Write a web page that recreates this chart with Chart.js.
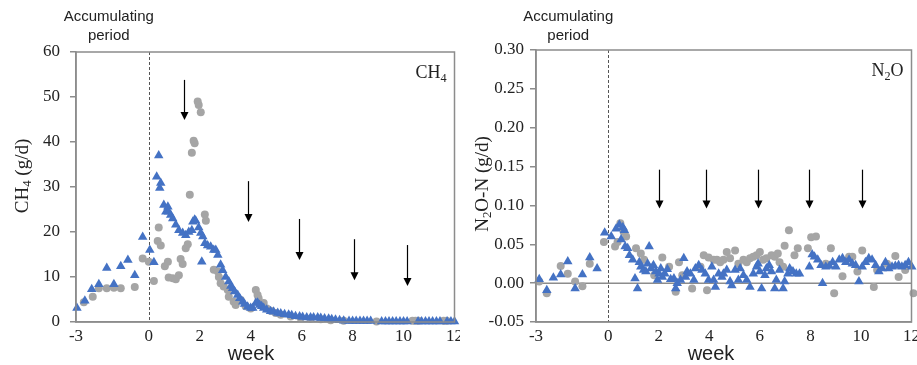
<!DOCTYPE html>
<html>
<head>
<meta charset="utf-8">
<script src="https://cdn.jsdelivr.net/npm/chart.js@4"></script>
<style>
  html, body { margin: 0; padding: 0; background: #fff; }
  .panel { position: absolute; top: 0; height: 365px; }
</style>
</head>
<body>
<div class="panel" style="left:0;width:460px"><canvas id="ch4Chart" width="460" height="365"></canvas></div>
<div class="panel" style="left:460px;width:457px"><canvas id="n2oChart" width="457" height="365"></canvas></div>
<script>
// x axis in weeks; first day of the accumulating period is day -20
const weekMin = -20 / 7;
const weekTicks = [weekMin, 0, 2, 4, 6, 8, 10, 12];

// CH4 (g/d) - blue triangles
const ch4BlueWeek = [-2.82, -2.51, -2.24, -1.96, -1.65, -1.37, -1.10, -0.82, -0.55, -0.24, 0.04, 0.20,
  0.31, 0.39, 0.43, 0.47, 0.59, 0.67, 0.75, 0.78, 0.86, 0.94, 1.06, 1.18, 1.33, 1.45, 1.57, 1.69, 1.73, 1.80,
  1.84, 1.96, 2.04, 2.08, 2.12, 2.20, 2.31, 2.43, 2.55, 2.63, 2.71, 2.82, 2.90, 3.02, 3.14, 3.22, 3.29, 3.37,
  3.49, 3.57, 3.69, 3.76, 3.88, 4.00, 4.08, 4.20, 4.27, 4.35, 4.43, 4.51, 4.63, 4.78, 4.90, 5.06, 5.18, 5.33,
  5.49, 5.61, 5.76, 5.92, 6.04, 6.20, 6.35, 6.47, 6.63, 6.75, 6.90, 7.06, 7.18, 7.33, 7.49, 7.65,
  7.86, 8.00, 8.14, 8.29, 8.43, 8.57, 8.71, 9.14, 9.29, 9.43, 9.57, 9.71, 9.86, 10.00, 10.14,
  10.57, 10.71, 10.86, 11.00, 11.14, 11.29, 11.43, 11.71, 11.86, 12.00];
const ch4BlueVal = [3.1, 4.7, 7.3, 8.4, 12.0, 8.4, 12.4, 13.8, 10.4, 18.9, 16.0, 13.3,
  32.3, 37.0, 29.8, 30.9, 26.0, 24.5, 25.6, 24.5, 23.8, 23.0, 21.6, 20.4, 19.8, 19.3, 20.0, 20.4, 22.3, 22.7,
  22.5, 21.0, 19.8, 13.4, 19.0, 17.5, 17.0, 16.7, 16.0, 16.0, 14.9, 12.7, 11.5, 10.0, 9.0, 8.0, 7.5, 6.8,
  6.0, 5.3, 4.5, 4.0, 3.4, 3.1, 3.1, 4.2, 4.3, 3.8, 3.5, 3.1, 2.7, 2.4, 2.3, 2.0, 1.9, 1.7,
  1.6, 1.5, 1.3, 1.2, 1.1, 1.0, 1.0, 1.0, 1.0, 0.9, 0.8, 0.7, 0.6, 0.5, 0.4, 0.3,
  0.2, 0.2, 0.2, 0.2, 0.2, 0.2, 0.2, 0.1, 0.1, 0.1, 0.1, 0.1, 0.1, 0.1, 0.1,
  0.1, 0.1, 0.1, 0.1, 0.1, 0.1, 0.1, 0.1, 0.1, 0.1];

// CH4 (g/d) - grey circles
const ch4GreyWeek = [-2.55, -2.20, -1.96, -1.65, -1.37, -1.10, -0.55, -0.24, 0.00,
  0.20, 0.35, 0.39, 0.47, 0.63, 0.75, 0.78, 0.94, 1.06, 1.18, 1.25, 1.33, 1.45, 1.53, 1.61, 1.69, 1.76, 1.80,
  1.92, 1.96, 2.04, 2.20, 2.24, 2.55, 2.71, 2.75, 2.82, 2.94, 3.10, 3.14, 3.33, 3.41, 3.61, 3.80, 4.00,
  4.20, 4.27, 4.31, 4.51, 4.63, 4.78, 4.98, 5.18, 5.57, 5.96, 6.35, 6.75, 7.14, 7.65, 8.94,
  10.35, 10.47, 10.59, 11.57, 11.69];
const ch4GreyVal = [4.4, 5.6, 7.5, 7.5, 7.6, 7.5, 7.8, 14.1, 13.4,
  9.1, 18.0, 21.0, 17.0, 12.4, 13.4, 9.9, 9.7, 9.5, 10.4, 14.0, 12.9, 16.4, 17.3, 28.3, 37.6, 40.3, 39.7,
  49.0, 48.2, 46.6, 23.9, 22.5, 11.6, 11.2, 10.0, 8.6, 7.9, 7.1, 5.6, 4.5, 3.8, 4.9, 3.5, 3.0,
  7.1, 6.0, 5.3, 4.2, 3.0, 2.5, 2.0, 1.6, 1.2, 0.9, 0.7, 0.6, 0.4, 0.3, 0.1,
  0.3, 0.3, 0.3, 0.3, 0.3];

// N2O-N (g/d) - blue triangles
const n2oBlueWeek = [-2.73, -2.43, -2.17, -1.88, -1.60, -1.31, -1.02, -0.73, -0.44, -0.14, 0.12,
  0.31, 0.44, 0.58, 0.64, 0.51, 0.67, 0.77, 0.84, 0.97, 1.06, 1.16, 1.23, 1.29, 1.40, 1.49, 1.56, 1.62, 1.69,
  1.79, 1.88, 1.95, 2.01, 2.08, 2.14, 2.24, 2.34, 2.47, 2.60, 2.67, 2.73, 2.86, 2.99, 3.06, 3.12, 3.25, 3.39,
  3.45, 3.58, 3.71, 3.84, 3.97, 4.10, 4.17, 4.24, 4.37, 4.50, 4.56, 4.69, 4.82, 4.89, 5.02, 5.15, 5.22, 5.35,
  5.48, 5.61, 5.74, 5.87, 5.93, 6.00, 6.07, 6.20, 6.26, 6.37, 6.46, 6.59, 6.65, 6.78, 6.92, 6.98, 7.11, 7.18,
  7.31, 7.44, 7.57, 7.96, 8.07, 8.16, 8.29, 8.42, 8.48, 8.61, 8.75, 8.88, 9.01, 9.14, 9.27, 9.40, 9.53, 9.66,
  9.79, 9.92, 10.05, 10.18, 10.31, 10.44, 10.58, 10.71, 10.84, 10.97, 11.10, 11.23, 11.36, 11.49, 11.62,
  11.75, 11.88, 12.01];
const n2oBlueVal = [0.005, -0.009, 0.007, 0.011, 0.028, -0.007, 0.011, 0.033, 0.019, 0.065, 0.060,
  0.070, 0.075, 0.072, 0.068, 0.056, 0.047, 0.045, 0.036, 0.030, 0.006, -0.007, 0.027, 0.021, 0.017, 0.015, 0.025, 0.047, 0.019,
  0.023, 0.015, 0.004, 0.012, 0.019, 0.008, 0.012, 0.018, 0.005, 0.006, -0.007, 0.000, 0.004, 0.032, 0.008, 0.015, 0.012, 0.004,
  0.019, 0.023, 0.017, 0.012, 0.004, 0.021, 0.004, -0.005, 0.012, 0.008, 0.012, 0.017, 0.002, -0.003, 0.017, 0.004, 0.019, 0.010,
  0.004, -0.005, 0.012, 0.021, 0.025, 0.015, -0.007, 0.010, 0.019, 0.023, 0.015, -0.007, 0.004, 0.017, -0.007, 0.002, 0.012, 0.019,
  0.015, 0.012, 0.012, 0.021, 0.037, 0.034, 0.030, 0.023, 0.000, 0.021, 0.022, 0.027, 0.021, 0.030, 0.032, 0.027, 0.030, 0.025,
  0.023, 0.002, 0.021, 0.027, 0.032, 0.030, 0.023, 0.015, 0.019, 0.027, 0.019, 0.021, 0.022, 0.023, 0.021,
  0.023, 0.027, 0.021];

// N2O-N (g/d) - grey circles
const n2oGreyWeek = [-2.73, -2.43, -1.88, -1.60, -1.31, -1.02, -0.73, -0.17,
  0.27, 0.37, 0.48, 0.61, 0.71, 1.10, 1.29, 1.42, 1.82, 2.14, 2.41, 2.67, 2.80, 2.93, 3.32, 3.65, 3.78,
  3.91, 3.97, 4.17, 4.30, 4.43, 4.56, 4.69, 4.82, 5.02, 5.15, 5.35, 5.48, 5.61, 5.74, 5.87, 6.00, 6.13,
  6.26, 6.46, 6.59, 6.71, 6.78, 6.92, 6.98, 7.15, 7.37, 7.50, 7.90, 8.03, 8.22, 8.61, 8.81, 8.94, 9.27,
  9.53, 9.66, 9.86, 10.05, 10.51, 10.64, 11.03, 11.36, 11.49, 11.75, 12.08];
const n2oGreyVal = [0.002, -0.013, 0.022, 0.012, 0.002, -0.004, 0.025, 0.053,
  0.047, 0.053, 0.077, 0.066, 0.060, 0.045, 0.038, 0.030, 0.010, 0.033, 0.021, -0.011, 0.027, 0.010, -0.007, 0.021, 0.036,
  -0.009, 0.033, 0.030, 0.030, 0.027, 0.030, 0.040, 0.032, 0.042, 0.025, 0.030, 0.027, 0.032, 0.034, 0.036, 0.040, 0.030,
  0.032, 0.036, 0.034, 0.038, 0.027, 0.021, 0.048, 0.068, 0.036, 0.045, 0.045, 0.059, 0.060, 0.025, 0.045, -0.013, 0.009,
  0.034, 0.034, 0.015, 0.042, -0.005, 0.017, 0.025, 0.035, 0.008, 0.017, -0.013];

// arrows (week, start value, tip value)
const ch4ArrowWeek = [1.37, 3.88, 5.88, 8.04, 10.12];
const ch4ArrowTop = [53.8, 31.3, 22.9, 18.4, 17.1];
const ch4ArrowTip = [44.9, 22.2, 13.8, 9.3, 8.0];
const n2oArrowWeek = [2.01, 3.88, 5.91, 7.93, 10.05];
const n2oArrowTop = [0.146, 0.146, 0.146, 0.146, 0.146];
const n2oArrowTip = [0.096, 0.096, 0.096, 0.096, 0.096];

const serif = '"Liberation Serif", "Times New Roman", serif';
const sans = '"Liberation Sans", Arial, sans-serif';
const frameColor = '#8c8c8c';

function pts(xs, ys) {
  return xs.map((x, i) => ({ x: x, y: ys[i] }));
}

function drawRich(ctx, parts, x, y, size, align) {
  let total = 0;
  parts.forEach(p => {
    ctx.font = (p.sub ? size * 0.68 : size) + 'px ' + serif;
    p.w = ctx.measureText(p.t).width;
    total += p.w;
  });
  let cx = align === 'center' ? x - total / 2 : align === 'right' ? x - total : x;
  ctx.textAlign = 'left';
  parts.forEach(p => {
    ctx.font = (p.sub ? size * 0.68 : size) + 'px ' + serif;
    ctx.fillText(p.t, cx, y + (p.sub ? size * 0.22 : 0));
    cx += p.w;
  });
}

const overlay = {
  id: 'overlay',
  beforeDatasetsDraw(chart, args, o) {
    const { ctx, chartArea: a, scales: { x, y } } = chart;
    ctx.save();
    // start of the trial
    ctx.strokeStyle = '#555';
    ctx.lineWidth = 1;
    ctx.setLineDash([3, 2]);
    const x0 = Math.round(x.getPixelForValue(0)) + 0.5;
    ctx.beginPath();
    ctx.moveTo(x0, a.top);
    ctx.lineTo(x0, a.bottom);
    ctx.stroke();
    ctx.setLineDash([]);
    if (o.zeroLine) {
      const yz = y.getPixelForValue(0);
      ctx.strokeStyle = frameColor;
      ctx.lineWidth = 1.5;
      ctx.beginPath();
      ctx.moveTo(a.left, yz);
      ctx.lineTo(a.right, yz);
      ctx.stroke();
    }
    ctx.restore();
  },
  afterDraw(chart, args, o) {
    const { ctx, chartArea: a, scales: { x, y } } = chart;
    ctx.save();
    ctx.strokeStyle = frameColor;
    ctx.lineWidth = 1.5;
    ctx.strokeRect(a.left, a.top, a.right - a.left, a.bottom - a.top);

    // arrows
    ctx.strokeStyle = '#000';
    ctx.fillStyle = '#000';
    ctx.lineWidth = 1.2;
    o.arrowWeek.forEach((w, i) => {
      const px = Math.round(x.getPixelForValue(w)) + 0.5;
      const top = y.getPixelForValue(o.arrowTop[i]);
      const tip = y.getPixelForValue(o.arrowTip[i]);
      ctx.beginPath();
      ctx.moveTo(px, top);
      ctx.lineTo(px, tip - 6);
      ctx.stroke();
      ctx.beginPath();
      ctx.moveTo(px - 4, tip - 8);
      ctx.lineTo(px + 4, tip - 8);
      ctx.lineTo(px, tip);
      ctx.closePath();
      ctx.fill();
    });

    ctx.fillStyle = '#222';
    ctx.textBaseline = 'middle';
    // accumulating period label
    ctx.font = '15px ' + sans;
    ctx.textAlign = 'center';
    const lx = x.getPixelForValue(0) - 40;
    ctx.fillText('Accumulating', lx, 17);
    ctx.fillText('period', lx, 36);

    // x title
    ctx.font = '20px ' + sans;
    ctx.fillText('week', 251, 354);

    // gas label inside plot
    ctx.textBaseline = 'alphabetic';
    drawRich(ctx, o.label, a.right - 8, a.top + 26, 18, 'right');

    // y title
    ctx.save();
    ctx.translate(23, o.titleY);
    ctx.rotate(-Math.PI / 2);
    ctx.textBaseline = 'middle';
    drawRich(ctx, o.title, 0, 0, 19, 'center');
    ctx.restore();
    ctx.restore();
  }
};

function makeChart(id, cfg) {
  return new Chart(document.getElementById(id), {
    type: 'scatter',
    data: {
      datasets: [
        {
          data: pts(cfg.blueWeek, cfg.blueVal),
          pointStyle: 'triangle',
          pointRadius: 5.5,
          backgroundColor: '#4472C4',
          borderWidth: 0,
          clip: false
        },
        {
          data: pts(cfg.greyWeek, cfg.greyVal),
          pointStyle: 'circle',
          pointRadius: 4,
          backgroundColor: '#A5A5A5',
          borderWidth: 0,
          clip: false
        }
      ]
    },
    options: {
      responsive: false,
      animation: false,
      layout: { padding: { left: 0, top: cfg.top, right: cfg.right, bottom: 0 } },
      plugins: {
        legend: { display: false },
        tooltip: { enabled: false },
        overlay: cfg.overlay
      },
      scales: {
        x: {
          type: 'linear',
          min: weekMin,
          max: 12,
          afterBuildTicks: s => { s.ticks = weekTicks.map(v => ({ value: v })); },
          afterFit: s => { s.height = 43; },
          grid: { display: false },
          border: { display: true, color: frameColor, width: 1.5 },
          ticks: {
            padding: -4,
            color: '#222',
            font: { family: serif, size: 17 },
            maxRotation: 0,
            callback: v => String(Math.round(v))
          }
        },
        y: {
          min: cfg.yMin,
          max: cfg.yMax,
          afterFit: s => { s.width = 76; },
          grid: { drawOnChartArea: false, tickLength: 6, color: frameColor, lineWidth: 1.5 },
          border: { display: true, color: frameColor, width: 1.5 },
          ticks: {
            stepSize: cfg.yStep,
            padding: cfg.yPad,
            color: '#222',
            font: { family: serif, size: 17 },
            callback: cfg.yFormat
          }
        }
      }
    },
    plugins: [overlay]
  });
}

makeChart('ch4Chart', {
  blueWeek: ch4BlueWeek, blueVal: ch4BlueVal,
  greyWeek: ch4GreyWeek, greyVal: ch4GreyVal,
  yMin: 0, yMax: 60, yStep: 10, yPad: 10,
  yFormat: v => String(Math.round(v)),
  top: 52, right: 5,
  overlay: {
    arrowWeek: ch4ArrowWeek, arrowTop: ch4ArrowTop, arrowTip: ch4ArrowTip,
    label: [{ t: 'CH' }, { t: '4', sub: true }],
    title: [{ t: 'CH' }, { t: '4', sub: true }, { t: ' (g/d)' }],
    titleY: 176,
    zeroLine: false
  }
});

makeChart('n2oChart', {
  blueWeek: n2oBlueWeek, blueVal: n2oBlueVal,
  greyWeek: n2oGreyWeek, greyVal: n2oGreyVal,
  yMin: -0.05, yMax: 0.30, yStep: 0.05, yPad: 6,
  yFormat: v => (Math.abs(v) < 1e-9 ? 0 : v).toFixed(2),
  top: 50, right: 1,
  overlay: {
    arrowWeek: n2oArrowWeek, arrowTop: n2oArrowTop, arrowTip: n2oArrowTip,
    label: [{ t: 'N' }, { t: '2', sub: true }, { t: 'O' }],
    title: [{ t: 'N' }, { t: '2', sub: true }, { t: 'O-N (g/d)' }],
    titleY: 184,
    zeroLine: true
  }
});
</script>
</body>
</html>
